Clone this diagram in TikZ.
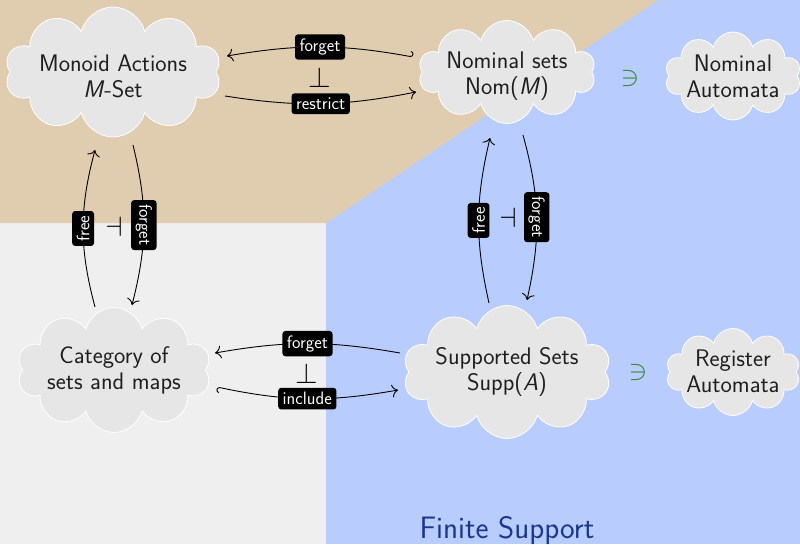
\documentclass[tikz,border=0pt]{standalone}
\usepackage{fontspec}
\usepackage{graphicx}
\usetikzlibrary{shapes.symbols,arrows.meta,calc}
\definecolor{bgtan}{RGB}{224,205,176}
\definecolor{bggray}{RGB}{239,239,239}
\definecolor{bgblue}{RGB}{184,205,254}
\definecolor{cloudfill}{RGB}{230,230,230}
\definecolor{fsblue}{RGB}{25,55,140}
\definecolor{nigreen}{RGB}{60,140,60}
\begin{document}
\begin{tikzpicture}[x=1pt,y=-1pt,
  cloudnode/.style={cloud, cloud puffs=10, cloud ignores aspect, fill=cloudfill, draw=white, line width=0.8pt, inner sep=0pt},
  cloudtext/.style={align=center, inner sep=0pt, font=\fontsize{24}{26}\selectfont\sffamily, text=black!88},
  lab/.style={fill=black, text=white, rounded corners=3pt, inner sep=4.5pt, font=\fontsize{18}{20}\selectfont\sffamily},
  arr/.style={-{To[scale=1.7]}, line width=0.9pt},
  hookarr/.style={{Hooks[left,length=3pt,width=11pt]}-{To[scale=1.7]}, line width=0.9pt},
  sym/.style={inner sep=0pt},
]
\useasboundingbox (0,0) rectangle (800,544);
\fill[bggray] (0,0) rectangle (800,544);
\fill[bgblue] (326,0) rectangle (800,544);
\fill[bgtan] (0,0) -- (658,0) -- (326,223) -- (0,223) -- cycle;

\node[cloudnode, minimum width=216pt, minimum height=130pt] (mon) at (113,72) {};
\node[cloudnode, minimum width=177pt, minimum height=103pt] (nom) at (507,72) {};
\node[cloudnode, minimum width=136pt, minimum height=88pt] (noma) at (733,76) {};
\node[cloudnode, minimum width=194pt, minimum height=125pt] (cat) at (114,370) {};
\node[cloudnode, minimum width=208pt, minimum height=133pt] (supp) at (507,372) {};
\node[cloudnode, minimum width=134pt, minimum height=87pt] (reg) at (733,372) {};

\node[cloudtext] (monT) at (113,76.5) {Monoid Actions\\\textit{M}-Set};
\node[cloudtext] (nomT) at (507,76.5) {Nominal sets\\Nom(\textit{M})};
\node[cloudtext] (nomaT) at (733,76.5) {Nominal\\Automata};
\node[cloudtext] (catT) at (114,370.5) {Category of\\sets and maps};
\node[cloudtext] (suppT) at (507,371.5) {Supported Sets\\Supp(\textit{A})};
\node[cloudtext] (regT) at (733,371.7) {Register\\Automata};

\draw[hookarr] ($(nom)+(-94,-15)$) to[bend right=10] node[lab]{forget} ($(mon)+(114,-16)$);
\draw[arr] ($(mon)+(112,24)$) to[bend right=10] node[lab]{restrict} ($(nom)+(-91,20)$);
\draw[arr] ($(supp)+(-107,-19)$) to[bend right=10] node[lab]{forget} ($(cat)+(101,-17)$);
\draw[hookarr] ($(cat)+(103,17)$) to[bend right=11] node[lab]{include} ($(supp)+(-109,18)$);
\draw[arr] ($(cat)+(-19,-63)$) to[bend left=15] node[lab,rotate=90]{free} ($(mon)+(-18,78)$);
\draw[arr] ($(mon)+(20,73)$) to[bend left=14] node[lab,rotate=-90]{forget} ($(cat)+(18,-65)$);
\draw[arr] ($(supp)+(-18,-69)$) to[bend left=13] node[lab,rotate=90]{free} ($(nom)+(-17,66)$);
\draw[arr] ($(nom)+(16,63)$) to[bend left=14] node[lab,rotate=-90]{forget} ($(supp)+(20,-72)$);

\node[sym] (p1) at (320,77) {\scalebox{2.9}{$\perp$}};
\node[sym] (p2) at (307,373) {\scalebox{2.9}{$\perp$}};
\node[sym] (p3) at (114,227) {\scalebox{2.8}{$\dashv$}};
\node[sym] (p4) at (508,218) {\scalebox{2.8}{$\dashv$}};
\node[sym, text=nigreen] (n1) at (630,78) {\scalebox{2.8}{$\ni$}};
\node[sym, text=nigreen] (n2) at (638,372) {\scalebox{2.8}{$\ni$}};

\node[anchor=base, font=\fontsize{31}{33}\selectfont\sffamily, text=fsblue] (fs) at (507,538) {Finite Support};
\end{tikzpicture}
\end{document}
